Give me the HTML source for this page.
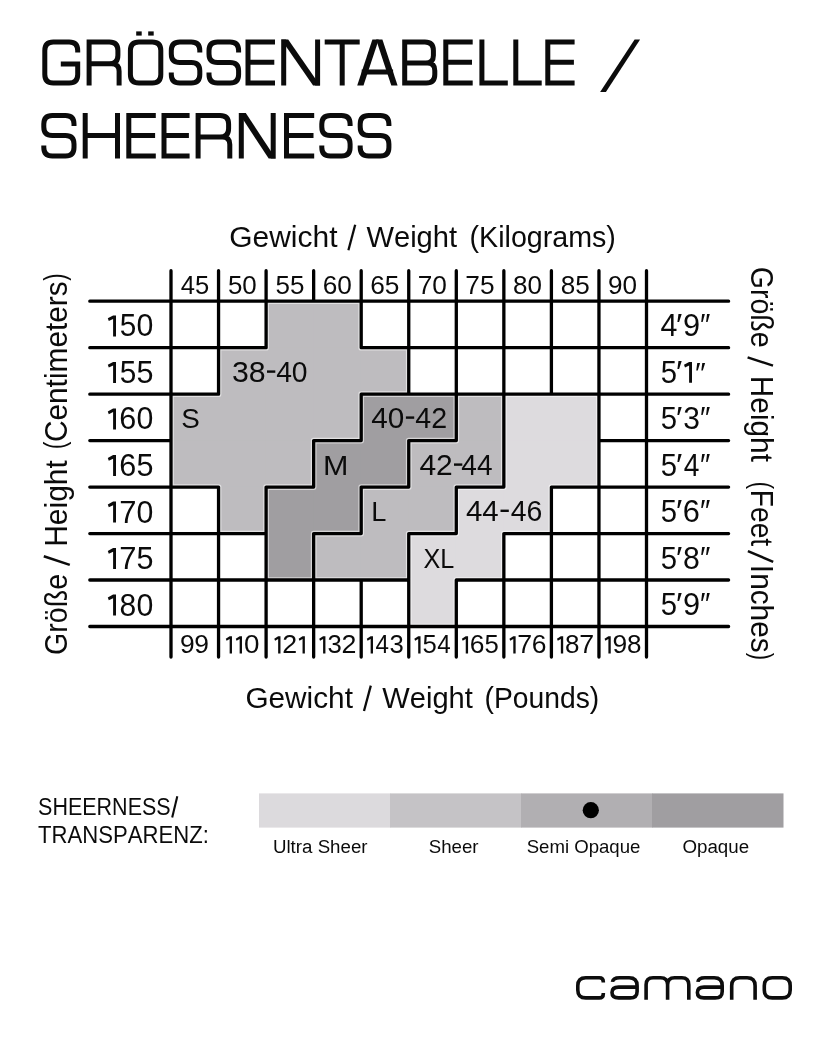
<!DOCTYPE html>
<html><head><meta charset="utf-8"><title>Grössentabelle / Sheerness</title>
<style>
html,body{margin:0;padding:0;background:#fff;}
body{width:832px;height:1040px;position:relative;overflow:hidden;font-family:"Liberation Sans",sans-serif;}
svg{position:absolute;left:0;top:0;display:block;will-change:transform;}
svg text{font-family:"Liberation Sans",sans-serif;fill:#0b0b0b;font-kerning:none;white-space:pre;}
</style></head><body>
<svg width="832" height="1040" viewBox="0 0 832 1040">
<rect x="265.60" y="300.70" width="48.55" height="47.47" fill="#bebcbf"/>
<rect x="313.15" y="300.70" width="48.55" height="47.47" fill="#bebcbf"/>
<rect x="218.05" y="347.17" width="48.55" height="47.47" fill="#bebcbf"/>
<rect x="265.60" y="347.17" width="48.55" height="47.47" fill="#bebcbf"/>
<rect x="313.15" y="347.17" width="48.55" height="47.47" fill="#bebcbf"/>
<rect x="360.70" y="347.17" width="48.55" height="47.47" fill="#bebcbf"/>
<rect x="170.50" y="393.64" width="48.55" height="47.47" fill="#bebcbf"/>
<rect x="218.05" y="393.64" width="48.55" height="47.47" fill="#bebcbf"/>
<rect x="265.60" y="393.64" width="48.55" height="47.47" fill="#bebcbf"/>
<rect x="313.15" y="393.64" width="48.55" height="47.47" fill="#bebcbf"/>
<rect x="360.70" y="393.64" width="48.55" height="47.47" fill="#a09ea1"/>
<rect x="408.25" y="393.64" width="48.55" height="47.47" fill="#a09ea1"/>
<rect x="455.80" y="393.64" width="48.55" height="47.47" fill="#bebcbf"/>
<rect x="503.35" y="393.64" width="48.55" height="47.47" fill="#dddbde"/>
<rect x="550.90" y="393.64" width="48.55" height="47.47" fill="#dddbde"/>
<rect x="170.50" y="440.11" width="48.55" height="47.47" fill="#bebcbf"/>
<rect x="218.05" y="440.11" width="48.55" height="47.47" fill="#bebcbf"/>
<rect x="265.60" y="440.11" width="48.55" height="47.47" fill="#bebcbf"/>
<rect x="313.15" y="440.11" width="48.55" height="47.47" fill="#a09ea1"/>
<rect x="360.70" y="440.11" width="48.55" height="47.47" fill="#a09ea1"/>
<rect x="408.25" y="440.11" width="48.55" height="47.47" fill="#bebcbf"/>
<rect x="455.80" y="440.11" width="48.55" height="47.47" fill="#bebcbf"/>
<rect x="503.35" y="440.11" width="48.55" height="47.47" fill="#dddbde"/>
<rect x="550.90" y="440.11" width="48.55" height="47.47" fill="#dddbde"/>
<rect x="218.05" y="486.58" width="48.55" height="47.47" fill="#bebcbf"/>
<rect x="265.60" y="486.58" width="48.55" height="47.47" fill="#a09ea1"/>
<rect x="313.15" y="486.58" width="48.55" height="47.47" fill="#a09ea1"/>
<rect x="360.70" y="486.58" width="48.55" height="47.47" fill="#bebcbf"/>
<rect x="408.25" y="486.58" width="48.55" height="47.47" fill="#bebcbf"/>
<rect x="455.80" y="486.58" width="48.55" height="47.47" fill="#dddbde"/>
<rect x="503.35" y="486.58" width="48.55" height="47.47" fill="#dddbde"/>
<rect x="265.60" y="533.05" width="48.55" height="47.47" fill="#a09ea1"/>
<rect x="313.15" y="533.05" width="48.55" height="47.47" fill="#bebcbf"/>
<rect x="360.70" y="533.05" width="48.55" height="47.47" fill="#bebcbf"/>
<rect x="408.25" y="533.05" width="48.55" height="47.47" fill="#dddbde"/>
<rect x="455.80" y="533.05" width="48.55" height="47.47" fill="#dddbde"/>
<rect x="408.25" y="579.52" width="48.55" height="47.47" fill="#dddbde"/>
<path d="M171.00 301.20L218.55 301.20 M218.55 301.20L266.10 301.20 M266.10 301.20L313.65 301.20 M313.65 301.20L361.20 301.20 M361.20 301.20L408.75 301.20 M408.75 301.20L456.30 301.20 M456.30 301.20L503.85 301.20 M503.85 301.20L551.40 301.20 M551.40 301.20L598.95 301.20 M598.95 301.20L646.50 301.20 M171.00 347.67L218.55 347.67 M218.55 347.67L266.10 347.67 M361.20 347.67L408.75 347.67 M408.75 347.67L456.30 347.67 M456.30 347.67L503.85 347.67 M503.85 347.67L551.40 347.67 M551.40 347.67L598.95 347.67 M598.95 347.67L646.50 347.67 M171.00 394.14L218.55 394.14 M361.20 394.14L408.75 394.14 M408.75 394.14L456.30 394.14 M456.30 394.14L503.85 394.14 M503.85 394.14L551.40 394.14 M551.40 394.14L598.95 394.14 M598.95 394.14L646.50 394.14 M313.65 440.61L361.20 440.61 M408.75 440.61L456.30 440.61 M598.95 440.61L646.50 440.61 M171.00 487.08L218.55 487.08 M266.10 487.08L313.65 487.08 M361.20 487.08L408.75 487.08 M456.30 487.08L503.85 487.08 M551.40 487.08L598.95 487.08 M598.95 487.08L646.50 487.08 M171.00 533.55L218.55 533.55 M218.55 533.55L266.10 533.55 M313.65 533.55L361.20 533.55 M408.75 533.55L456.30 533.55 M503.85 533.55L551.40 533.55 M551.40 533.55L598.95 533.55 M598.95 533.55L646.50 533.55 M171.00 580.02L218.55 580.02 M218.55 580.02L266.10 580.02 M266.10 580.02L313.65 580.02 M313.65 580.02L361.20 580.02 M361.20 580.02L408.75 580.02 M456.30 580.02L503.85 580.02 M503.85 580.02L551.40 580.02 M551.40 580.02L598.95 580.02 M598.95 580.02L646.50 580.02 M171.00 626.49L218.55 626.49 M218.55 626.49L266.10 626.49 M266.10 626.49L313.65 626.49 M313.65 626.49L361.20 626.49 M361.20 626.49L408.75 626.49 M408.75 626.49L456.30 626.49 M456.30 626.49L503.85 626.49 M503.85 626.49L551.40 626.49 M551.40 626.49L598.95 626.49 M598.95 626.49L646.50 626.49 M171.00 301.20L171.00 347.67 M171.00 347.67L171.00 394.14 M171.00 394.14L171.00 440.61 M171.00 440.61L171.00 487.08 M171.00 487.08L171.00 533.55 M171.00 533.55L171.00 580.02 M171.00 580.02L171.00 626.49 M218.55 301.20L218.55 347.67 M218.55 347.67L218.55 394.14 M218.55 487.08L218.55 533.55 M218.55 533.55L218.55 580.02 M218.55 580.02L218.55 626.49 M266.10 301.20L266.10 347.67 M266.10 487.08L266.10 533.55 M266.10 533.55L266.10 580.02 M266.10 580.02L266.10 626.49 M313.65 440.61L313.65 487.08 M313.65 533.55L313.65 580.02 M313.65 580.02L313.65 626.49 M361.20 301.20L361.20 347.67 M361.20 394.14L361.20 440.61 M361.20 487.08L361.20 533.55 M361.20 580.02L361.20 626.49 M408.75 301.20L408.75 347.67 M408.75 347.67L408.75 394.14 M408.75 440.61L408.75 487.08 M408.75 533.55L408.75 580.02 M408.75 580.02L408.75 626.49 M456.30 301.20L456.30 347.67 M456.30 347.67L456.30 394.14 M456.30 394.14L456.30 440.61 M456.30 487.08L456.30 533.55 M456.30 580.02L456.30 626.49 M503.85 301.20L503.85 347.67 M503.85 347.67L503.85 394.14 M503.85 394.14L503.85 440.61 M503.85 440.61L503.85 487.08 M503.85 533.55L503.85 580.02 M503.85 580.02L503.85 626.49 M551.40 301.20L551.40 347.67 M551.40 347.67L551.40 394.14 M551.40 487.08L551.40 533.55 M551.40 533.55L551.40 580.02 M551.40 580.02L551.40 626.49 M598.95 301.20L598.95 347.67 M598.95 347.67L598.95 394.14 M598.95 394.14L598.95 440.61 M598.95 440.61L598.95 487.08 M598.95 487.08L598.95 533.55 M598.95 533.55L598.95 580.02 M598.95 580.02L598.95 626.49 M646.50 301.20L646.50 347.67 M646.50 347.67L646.50 394.14 M646.50 394.14L646.50 440.61 M646.50 440.61L646.50 487.08 M646.50 487.08L646.50 533.55 M646.50 533.55L646.50 580.02 M646.50 580.02L646.50 626.49 M171.00 270.70L171.00 301.20 M171.00 626.49L171.00 657.00 M218.55 270.70L218.55 301.20 M218.55 626.49L218.55 657.00 M266.10 270.70L266.10 301.20 M266.10 626.49L266.10 657.00 M313.65 270.70L313.65 301.20 M313.65 626.49L313.65 657.00 M361.20 270.70L361.20 301.20 M361.20 626.49L361.20 657.00 M408.75 270.70L408.75 301.20 M408.75 626.49L408.75 657.00 M456.30 270.70L456.30 301.20 M456.30 626.49L456.30 657.00 M503.85 270.70L503.85 301.20 M503.85 626.49L503.85 657.00 M551.40 270.70L551.40 301.20 M551.40 626.49L551.40 657.00 M598.95 270.70L598.95 301.20 M598.95 626.49L598.95 657.00 M646.50 270.70L646.50 301.20 M646.50 626.49L646.50 657.00 M89.80 301.20L171.00 301.20 M646.50 301.20L728.60 301.20 M89.80 347.67L171.00 347.67 M646.50 347.67L728.60 347.67 M89.80 394.14L171.00 394.14 M646.50 394.14L728.60 394.14 M89.80 440.61L171.00 440.61 M646.50 440.61L728.60 440.61 M89.80 487.08L171.00 487.08 M646.50 487.08L728.60 487.08 M89.80 533.55L171.00 533.55 M646.50 533.55L728.60 533.55 M89.80 580.02L171.00 580.02 M646.50 580.02L728.60 580.02 M89.80 626.49L171.00 626.49 M646.50 626.49L728.60 626.49" stroke="#fff" stroke-opacity="0.55" stroke-width="5.699999999999999" stroke-linecap="round" fill="none"/>
<path d="M171.00 301.20L218.55 301.20 M218.55 301.20L266.10 301.20 M266.10 301.20L313.65 301.20 M313.65 301.20L361.20 301.20 M361.20 301.20L408.75 301.20 M408.75 301.20L456.30 301.20 M456.30 301.20L503.85 301.20 M503.85 301.20L551.40 301.20 M551.40 301.20L598.95 301.20 M598.95 301.20L646.50 301.20 M171.00 347.67L218.55 347.67 M218.55 347.67L266.10 347.67 M361.20 347.67L408.75 347.67 M408.75 347.67L456.30 347.67 M456.30 347.67L503.85 347.67 M503.85 347.67L551.40 347.67 M551.40 347.67L598.95 347.67 M598.95 347.67L646.50 347.67 M171.00 394.14L218.55 394.14 M361.20 394.14L408.75 394.14 M408.75 394.14L456.30 394.14 M456.30 394.14L503.85 394.14 M503.85 394.14L551.40 394.14 M551.40 394.14L598.95 394.14 M598.95 394.14L646.50 394.14 M313.65 440.61L361.20 440.61 M408.75 440.61L456.30 440.61 M598.95 440.61L646.50 440.61 M171.00 487.08L218.55 487.08 M266.10 487.08L313.65 487.08 M361.20 487.08L408.75 487.08 M456.30 487.08L503.85 487.08 M551.40 487.08L598.95 487.08 M598.95 487.08L646.50 487.08 M171.00 533.55L218.55 533.55 M218.55 533.55L266.10 533.55 M313.65 533.55L361.20 533.55 M408.75 533.55L456.30 533.55 M503.85 533.55L551.40 533.55 M551.40 533.55L598.95 533.55 M598.95 533.55L646.50 533.55 M171.00 580.02L218.55 580.02 M218.55 580.02L266.10 580.02 M266.10 580.02L313.65 580.02 M313.65 580.02L361.20 580.02 M361.20 580.02L408.75 580.02 M456.30 580.02L503.85 580.02 M503.85 580.02L551.40 580.02 M551.40 580.02L598.95 580.02 M598.95 580.02L646.50 580.02 M171.00 626.49L218.55 626.49 M218.55 626.49L266.10 626.49 M266.10 626.49L313.65 626.49 M313.65 626.49L361.20 626.49 M361.20 626.49L408.75 626.49 M408.75 626.49L456.30 626.49 M456.30 626.49L503.85 626.49 M503.85 626.49L551.40 626.49 M551.40 626.49L598.95 626.49 M598.95 626.49L646.50 626.49 M171.00 301.20L171.00 347.67 M171.00 347.67L171.00 394.14 M171.00 394.14L171.00 440.61 M171.00 440.61L171.00 487.08 M171.00 487.08L171.00 533.55 M171.00 533.55L171.00 580.02 M171.00 580.02L171.00 626.49 M218.55 301.20L218.55 347.67 M218.55 347.67L218.55 394.14 M218.55 487.08L218.55 533.55 M218.55 533.55L218.55 580.02 M218.55 580.02L218.55 626.49 M266.10 301.20L266.10 347.67 M266.10 487.08L266.10 533.55 M266.10 533.55L266.10 580.02 M266.10 580.02L266.10 626.49 M313.65 440.61L313.65 487.08 M313.65 533.55L313.65 580.02 M313.65 580.02L313.65 626.49 M361.20 301.20L361.20 347.67 M361.20 394.14L361.20 440.61 M361.20 487.08L361.20 533.55 M361.20 580.02L361.20 626.49 M408.75 301.20L408.75 347.67 M408.75 347.67L408.75 394.14 M408.75 440.61L408.75 487.08 M408.75 533.55L408.75 580.02 M408.75 580.02L408.75 626.49 M456.30 301.20L456.30 347.67 M456.30 347.67L456.30 394.14 M456.30 394.14L456.30 440.61 M456.30 487.08L456.30 533.55 M456.30 580.02L456.30 626.49 M503.85 301.20L503.85 347.67 M503.85 347.67L503.85 394.14 M503.85 394.14L503.85 440.61 M503.85 440.61L503.85 487.08 M503.85 533.55L503.85 580.02 M503.85 580.02L503.85 626.49 M551.40 301.20L551.40 347.67 M551.40 347.67L551.40 394.14 M551.40 487.08L551.40 533.55 M551.40 533.55L551.40 580.02 M551.40 580.02L551.40 626.49 M598.95 301.20L598.95 347.67 M598.95 347.67L598.95 394.14 M598.95 394.14L598.95 440.61 M598.95 440.61L598.95 487.08 M598.95 487.08L598.95 533.55 M598.95 533.55L598.95 580.02 M598.95 580.02L598.95 626.49 M646.50 301.20L646.50 347.67 M646.50 347.67L646.50 394.14 M646.50 394.14L646.50 440.61 M646.50 440.61L646.50 487.08 M646.50 487.08L646.50 533.55 M646.50 533.55L646.50 580.02 M646.50 580.02L646.50 626.49 M171.00 270.70L171.00 301.20 M171.00 626.49L171.00 657.00 M218.55 270.70L218.55 301.20 M218.55 626.49L218.55 657.00 M266.10 270.70L266.10 301.20 M266.10 626.49L266.10 657.00 M313.65 270.70L313.65 301.20 M313.65 626.49L313.65 657.00 M361.20 270.70L361.20 301.20 M361.20 626.49L361.20 657.00 M408.75 270.70L408.75 301.20 M408.75 626.49L408.75 657.00 M456.30 270.70L456.30 301.20 M456.30 626.49L456.30 657.00 M503.85 270.70L503.85 301.20 M503.85 626.49L503.85 657.00 M551.40 270.70L551.40 301.20 M551.40 626.49L551.40 657.00 M598.95 270.70L598.95 301.20 M598.95 626.49L598.95 657.00 M646.50 270.70L646.50 301.20 M646.50 626.49L646.50 657.00 M89.80 301.20L171.00 301.20 M646.50 301.20L728.60 301.20 M89.80 347.67L171.00 347.67 M646.50 347.67L728.60 347.67 M89.80 394.14L171.00 394.14 M646.50 394.14L728.60 394.14 M89.80 440.61L171.00 440.61 M646.50 440.61L728.60 440.61 M89.80 487.08L171.00 487.08 M646.50 487.08L728.60 487.08 M89.80 533.55L171.00 533.55 M646.50 533.55L728.60 533.55 M89.80 580.02L171.00 580.02 M646.50 580.02L728.60 580.02 M89.80 626.49L171.00 626.49 M646.50 626.49L728.60 626.49" stroke="#000" stroke-width="3.3" stroke-linecap="round" fill="none"/>
<g id="title">
<rect x="136.2" y="31.4" width="5.5" height="4.2" fill="#0b0b0b"/><rect x="148.2" y="31.4" width="5.5" height="4.2" fill="#0b0b0b"/>
<polygon points="281.20,39.50 288.20,39.50 320.10,85.60 313.10,85.60" fill="#0b0b0b"/>
<polygon points="372.40,39.50 378.70,39.50 363.50,85.60 357.20,85.60" fill="#0b0b0b"/>
<polygon points="382.40,39.50 376.10,39.50 391.30,85.60 397.60,85.60" fill="#0b0b0b"/>
<polygon points="238.80,113.00 245.80,113.00 275.70,158.60 268.70,158.60" fill="#0b0b0b"/>
<path d="M77.7 52.5V50.5Q77.7 42.0 69.2 42.0H53.3Q44.8 42.0 44.8 50.5V74.6Q44.8 83.1 53.3 83.1H69.2Q77.7 83.1 77.7 74.6V63.9H60.8 M89.1 85.6V42.0H109.4Q117.9 42.0 117.9 50.5V55.2Q117.9 63.8 109.4 63.8H89.1M109.4 63.8H111.6Q119.1 63.8 119.1 71.2V85.6 M138.9 42.0H152.3Q160.8 42.0 160.8 50.5V74.6Q160.8 83.1 152.3 83.1H138.9Q130.4 83.1 130.4 74.6V50.5Q130.4 42.0 138.9 42.0Z M199.8 52.5V50.5Q199.8 42.0 191.3 42.0H179.8Q171.3 42.0 171.3 50.5V53.9Q171.3 62.4 179.8 62.4H191.3Q199.8 62.4 199.8 70.8V74.6Q199.8 83.1 191.3 83.1H179.8Q171.3 83.1 171.3 74.6V72.6 M238.6 52.5V50.5Q238.6 42.0 230.1 42.0H217.5Q209.0 42.0 209.0 50.5V53.9Q209.0 62.4 217.5 62.4H230.1Q238.6 62.4 238.6 70.8V74.6Q238.6 83.1 230.1 83.1H217.5Q209.0 83.1 209.0 74.6V72.6 M275.0 42.0H248.0V83.1H275.0M248.0 62.3H274.3 M283.7 39.5V85.6M317.6 39.5V85.6 M324.7 42.0H359.7M342.2 42.0V85.6 M361.7 71.9H393.1 M404.7 63.1V42.0H424.9Q433.4 42.0 433.4 50.5V55.6Q433.4 63.1 425.9 63.1H404.7V83.1H426.3Q434.8 83.1 434.8 74.6V70.7Q434.8 63.1 427.3 63.1 M472.7 42.0H445.8V83.1H472.7M445.8 62.3H472.0 M481.9 39.5V83.1H507.8 M515.8 39.5V83.1H541.7 M574.6 42.0H547.8V83.1H574.6M547.8 62.3H573.9 M74.0 126.0V124.0Q74.0 115.5 65.5 115.5H52.3Q43.8 115.5 43.8 124.0V127.1Q43.8 135.6 52.3 135.6H65.5Q74.0 135.6 74.0 144.1V147.6Q74.0 156.1 65.5 156.1H52.3Q43.8 156.1 43.8 147.6V145.6 M85.2 113.0V158.6M117.5 113.0V158.6M85.2 135.6H117.5 M155.8 115.5H128.8V156.1H155.8M128.8 135.6H155.1 M189.6 115.5H164.0V156.1H189.6M164.0 135.6H188.9 M198.1 158.6V115.5H220.1Q228.6 115.5 228.6 124.0V128.5Q228.6 137.0 220.1 137.0H198.1M220.1 137.0H222.3Q229.8 137.0 229.8 144.5V158.6 M241.3 113.0V158.6M273.2 113.0V158.6 M314.2 115.5H286.5V156.1H314.2M286.5 135.6H313.5 M350.1 126.0V124.0Q350.1 115.5 341.6 115.5H330.3Q321.8 115.5 321.8 124.0V127.1Q321.8 135.6 330.3 135.6H341.6Q350.1 135.6 350.1 144.1V147.6Q350.1 156.1 341.6 156.1H330.3Q321.8 156.1 321.8 147.6V145.6 M388.9 126.0V124.0Q388.9 115.5 380.4 115.5H368.7Q360.2 115.5 360.2 124.0V127.1Q360.2 135.6 368.7 135.6H380.4Q388.9 135.6 388.9 144.1V147.6Q388.9 156.1 380.4 156.1H368.7Q360.2 156.1 360.2 147.6V145.6" fill="none" stroke="#0b0b0b" stroke-width="5.0" stroke-linejoin="miter" stroke-linecap="butt"/>
<polygon points="634.6,39.5 640.1,39.5 605.9,91.9 600.1,91.9" fill="#0b0b0b"/>
</g>
<text transform="translate(229.29 246.70) scale(1.0331 1)" font-size="29" >Gewicht</text>
<line x1="348.4" y1="250.2" x2="355.2" y2="224.8" stroke="#0b0b0b" stroke-width="2.3"/>
<text transform="translate(366.47 246.70) scale(1.0043 1)" font-size="29" >Weight</text>
<text transform="translate(469.52 246.70) scale(0.9879 1)" font-size="29" >(Kilograms)</text>
<text transform="translate(245.40 707.50) scale(1.0273 1)" font-size="29" >Gewicht</text>
<line x1="364.0" y1="711.0" x2="370.8" y2="685.6" stroke="#0b0b0b" stroke-width="2.3"/>
<text transform="translate(382.37 707.50) scale(1.0031 1)" font-size="29" >Weight</text>
<text transform="translate(484.55 707.50) scale(0.9757 1)" font-size="29" >(Pounds)</text>
<text transform="translate(180.79 294.00) scale(1.0235 1)" font-size="25" >45</text>
<text transform="translate(179.94 653.40) scale(1.0565 1)" font-size="25" >9</text>
<text transform="translate(194.34 653.40) scale(1.0565 1)" font-size="25" >9</text>
<text transform="translate(227.89 294.00) scale(1.0376 1)" font-size="25" >50</text>
<polygon points="229.65,636.20 231.97,636.20 231.97,653.40 229.65,653.40 229.65,639.11 226.59,640.84 225.78,638.64" fill="#0b0b0b"/>
<polygon points="239.65,636.20 241.97,636.20 241.97,653.40 239.65,653.40 239.65,639.11 236.59,640.84 235.78,638.64" fill="#0b0b0b"/>
<text transform="translate(243.89 653.40) scale(1.1129 1)" font-size="25" >0</text>
<text transform="translate(275.43 294.00) scale(1.0405 1)" font-size="25" >55</text>
<polygon points="278.15,636.20 280.47,636.20 280.47,653.40 278.15,653.40 278.15,639.11 275.09,640.84 274.27,638.64" fill="#0b0b0b"/>
<text transform="translate(282.13 653.40) scale(1.0712 1)" font-size="25" >2</text>
<polygon points="302.55,636.20 304.87,636.20 304.87,653.40 302.55,653.40 302.55,639.11 299.49,640.84 298.67,638.64" fill="#0b0b0b"/>
<text transform="translate(322.69 294.00) scale(1.0485 1)" font-size="25" >60</text>
<polygon points="323.10,636.20 325.42,636.20 325.42,653.40 323.10,653.40 323.10,639.11 320.04,640.84 319.22,638.64" fill="#0b0b0b"/>
<text transform="translate(327.44 653.40) scale(1.0293 1)" font-size="25" >3</text>
<text transform="translate(341.48 653.40) scale(1.0712 1)" font-size="25" >2</text>
<text transform="translate(370.24 294.00) scale(1.0515 1)" font-size="25" >65</text>
<polygon points="370.65,636.20 372.98,636.20 372.98,653.40 370.65,653.40 370.65,639.11 367.59,640.84 366.78,638.64" fill="#0b0b0b"/>
<text transform="translate(375.42 653.40) scale(0.9684 1)" font-size="25" >4</text>
<text transform="translate(389.39 653.40) scale(1.0293 1)" font-size="25" >3</text>
<text transform="translate(417.78 294.00) scale(1.0490 1)" font-size="25" >70</text>
<polygon points="418.20,636.20 420.52,636.20 420.52,653.40 418.20,653.40 418.20,639.11 415.14,640.84 414.32,638.64" fill="#0b0b0b"/>
<text transform="translate(422.49 653.40) scale(1.0293 1)" font-size="25" >5</text>
<text transform="translate(437.37 653.40) scale(0.9684 1)" font-size="25" >4</text>
<text transform="translate(465.33 294.00) scale(1.0520 1)" font-size="25" >75</text>
<polygon points="465.75,636.20 468.07,636.20 468.07,653.40 465.75,653.40 465.75,639.11 462.69,640.84 461.87,638.64" fill="#0b0b0b"/>
<text transform="translate(469.73 653.40) scale(1.0576 1)" font-size="25" >6</text>
<text transform="translate(484.44 653.40) scale(1.0293 1)" font-size="25" >5</text>
<text transform="translate(513.09 294.00) scale(1.0410 1)" font-size="25" >80</text>
<polygon points="513.30,636.20 515.63,636.20 515.63,653.40 513.30,653.40 513.30,639.11 510.24,640.84 509.43,638.64" fill="#0b0b0b"/>
<text transform="translate(517.25 653.40) scale(1.0735 1)" font-size="25" >7</text>
<text transform="translate(531.68 653.40) scale(1.0576 1)" font-size="25" >6</text>
<text transform="translate(560.64 294.00) scale(1.0440 1)" font-size="25" >85</text>
<polygon points="560.85,636.20 563.18,636.20 563.18,653.40 560.85,653.40 560.85,639.11 557.79,640.84 556.98,638.64" fill="#0b0b0b"/>
<text transform="translate(565.05 653.40) scale(1.0400 1)" font-size="25" >8</text>
<text transform="translate(579.20 653.40) scale(1.0735 1)" font-size="25" >7</text>
<text transform="translate(608.10 294.00) scale(1.0445 1)" font-size="25" >90</text>
<polygon points="608.40,636.20 610.73,636.20 610.73,653.40 608.40,653.40 608.40,639.11 605.34,640.84 604.53,638.64" fill="#0b0b0b"/>
<text transform="translate(612.49 653.40) scale(1.0565 1)" font-size="25" >9</text>
<text transform="translate(627.00 653.40) scale(1.0400 1)" font-size="25" >8</text>
<polygon points="113.10,315.42 116.00,315.42 116.00,336.40 113.10,336.40 113.10,319.04 108.81,321.08 107.80,318.33" fill="#0b0b0b"/>
<text transform="translate(119.71 336.40) scale(0.9751 1)" font-size="30.5" >5</text>
<text transform="translate(136.42 336.40) scale(0.9945 1)" font-size="30.5" >0</text>
<text transform="translate(660.40 336.10) scale(0.9922 1)" font-size="30.6" >4</text>
<text transform="translate(675.99 336.10) scale(1.1069 1)" font-size="30.6" >′</text>
<text transform="translate(682.96 336.10) scale(1.0046 1)" font-size="30.6" >9</text>
<text transform="translate(699.99 336.10) scale(0.9561 1)" font-size="30.6" >″</text>
<polygon points="113.10,361.95 116.00,361.95 116.00,382.93 113.10,382.93 113.10,365.57 108.81,367.61 107.80,364.86" fill="#0b0b0b"/>
<text transform="translate(119.71 382.93) scale(0.9751 1)" font-size="30.5" >5</text>
<text transform="translate(136.38 382.93) scale(1.0027 1)" font-size="30.5" >5</text>
<text transform="translate(660.73 382.63) scale(0.9581 1)" font-size="30.6" >5</text>
<text transform="translate(675.99 382.63) scale(1.1069 1)" font-size="30.6" >′</text>
<polygon points="689.10,361.99 692.00,361.99 692.00,382.63 689.10,382.63 689.10,365.62 685.01,367.56 684.00,364.81" fill="#0b0b0b"/>
<text transform="translate(695.04 382.63) scale(1.0093 1)" font-size="30" >″</text>
<polygon points="113.10,408.48 116.00,408.48 116.00,429.46 113.10,429.46 113.10,412.10 108.81,414.14 107.80,411.39" fill="#0b0b0b"/>
<text transform="translate(119.35 429.46) scale(1.0019 1)" font-size="30.5" >6</text>
<text transform="translate(136.42 429.46) scale(0.9945 1)" font-size="30.5" >0</text>
<text transform="translate(660.73 429.16) scale(0.9581 1)" font-size="30.6" >5</text>
<text transform="translate(675.99 429.16) scale(1.1069 1)" font-size="30.6" >′</text>
<text transform="translate(683.26 429.16) scale(0.9788 1)" font-size="30.6" >3</text>
<text transform="translate(699.99 429.16) scale(0.9561 1)" font-size="30.6" >″</text>
<polygon points="113.10,455.01 116.00,455.01 116.00,475.99 113.10,475.99 113.10,458.63 108.81,460.67 107.80,457.92" fill="#0b0b0b"/>
<text transform="translate(119.35 475.99) scale(1.0019 1)" font-size="30.5" >6</text>
<text transform="translate(136.38 475.99) scale(1.0027 1)" font-size="30.5" >5</text>
<text transform="translate(660.73 475.69) scale(0.9581 1)" font-size="30.6" >5</text>
<text transform="translate(675.99 475.69) scale(1.1069 1)" font-size="30.6" >′</text>
<text transform="translate(683.75 475.69) scale(0.9209 1)" font-size="30.6" >4</text>
<text transform="translate(699.99 475.69) scale(0.9561 1)" font-size="30.6" >″</text>
<polygon points="113.10,501.54 116.00,501.54 116.00,522.52 113.10,522.52 113.10,505.16 108.81,507.20 107.80,504.45" fill="#0b0b0b"/>
<text transform="translate(119.31 522.52) scale(1.0169 1)" font-size="30.5" >7</text>
<text transform="translate(136.42 522.52) scale(0.9945 1)" font-size="30.5" >0</text>
<text transform="translate(660.73 522.22) scale(0.9581 1)" font-size="30.6" >5</text>
<text transform="translate(675.99 522.22) scale(1.1069 1)" font-size="30.6" >′</text>
<text transform="translate(682.84 522.22) scale(1.0057 1)" font-size="30.6" >6</text>
<text transform="translate(699.99 522.22) scale(0.9561 1)" font-size="30.6" >″</text>
<polygon points="113.10,548.07 116.00,548.07 116.00,569.05 113.10,569.05 113.10,551.69 108.81,553.73 107.80,550.98" fill="#0b0b0b"/>
<text transform="translate(119.31 569.05) scale(1.0169 1)" font-size="30.5" >7</text>
<text transform="translate(136.38 569.05) scale(1.0027 1)" font-size="30.5" >5</text>
<text transform="translate(660.73 568.75) scale(0.9581 1)" font-size="30.6" >5</text>
<text transform="translate(675.99 568.75) scale(1.1069 1)" font-size="30.6" >′</text>
<text transform="translate(683.08 568.75) scale(0.9889 1)" font-size="30.6" >8</text>
<text transform="translate(699.99 568.75) scale(0.9561 1)" font-size="30.6" >″</text>
<polygon points="113.10,594.60 116.00,594.60 116.00,615.58 113.10,615.58 113.10,598.22 108.81,600.26 107.80,597.51" fill="#0b0b0b"/>
<text transform="translate(119.59 615.58) scale(0.9852 1)" font-size="30.5" >8</text>
<text transform="translate(136.42 615.58) scale(0.9945 1)" font-size="30.5" >0</text>
<text transform="translate(660.73 615.28) scale(0.9581 1)" font-size="30.6" >5</text>
<text transform="translate(675.99 615.28) scale(1.1069 1)" font-size="30.6" >′</text>
<text transform="translate(682.96 615.28) scale(1.0046 1)" font-size="30.6" >9</text>
<text transform="translate(699.99 615.28) scale(0.9561 1)" font-size="30.6" >″</text>
<text transform="translate(231.95 382.00) scale(1.0438 1)" font-size="29" >38</text>
<text transform="translate(276.15 382.00) scale(0.9751 1)" font-size="29" >40</text>
<line x1="267.0" y1="371.6" x2="275.3" y2="371.6" stroke="#0b0b0b" stroke-width="2.4"/>
<text transform="translate(371.32 428.00) scale(1.0243 1)" font-size="29" >40</text>
<text transform="translate(415.24 428.00) scale(0.9856 1)" font-size="29" >42</text>
<line x1="405.9" y1="417.6" x2="414.2" y2="417.6" stroke="#0b0b0b" stroke-width="2.4"/>
<text transform="translate(419.41 475.00) scale(1.0354 1)" font-size="29" >42</text>
<text transform="translate(461.36 475.00) scale(0.9661 1)" font-size="29" >44</text>
<line x1="454.0" y1="464.6" x2="462.3" y2="464.6" stroke="#0b0b0b" stroke-width="2.4"/>
<text transform="translate(465.92 521.20) scale(1.0149 1)" font-size="29" >44</text>
<text transform="translate(510.75 521.20) scale(0.9797 1)" font-size="29" >46</text>
<line x1="500.5" y1="510.8" x2="508.8" y2="510.8" stroke="#0b0b0b" stroke-width="2.4"/>
<text transform="translate(181.24 427.70) scale(1.0294 1)" font-size="27" >S</text>
<text transform="translate(323.10 474.70) scale(1.1295 1)" font-size="27" >M</text>
<text transform="translate(371.37 521.30) scale(1.0080 1)" font-size="27" >L</text>
<text transform="translate(423.43 567.80) scale(0.9327 1)" font-size="27" >XL</text>
<g transform="translate(66.9 0) rotate(-90)">
<text transform="translate(-655.04 0.00) scale(0.9292 1)" font-size="30.8" >Größe</text>
<text transform="translate(-546.86 0.00) scale(0.9747 1)" font-size="30.8" >Height</text>
<text transform="translate(-449.30 -1.60) scale(0.7803 1)" font-size="29" >(</text>
<text transform="translate(-442.12 0.00) scale(0.9691 1)" font-size="30.8" >Centimeters</text>
<text transform="translate(-280.73 -1.60) scale(0.7543 1)" font-size="29" >)</text>
</g>
<line x1="69.8" y1="564.9" x2="43.8" y2="556.2" stroke="#0b0b0b" stroke-width="2.5"/>
<g transform="translate(750.8 0) rotate(90)">
<text transform="translate(266.66 0.00) scale(0.9292 1)" font-size="30.8" >Größe</text>
<text transform="translate(375.75 0.00) scale(0.9689 1)" font-size="30.8" >Height</text>
<text transform="translate(481.40 -1.60) scale(0.7803 1)" font-size="29" >(</text>
<text transform="translate(489.79 0.00) scale(0.9155 1)" font-size="30.8" >Feet</text>
<text transform="translate(564.85 0.00) scale(0.9678 1)" font-size="30.8" >Inches</text>
<text transform="translate(652.67 -1.60) scale(0.7543 1)" font-size="29" >)</text>
</g>
<line x1="747.6" y1="357.4" x2="773.0" y2="365.6" stroke="#0b0b0b" stroke-width="2.5"/>
<line x1="747.9" y1="551.2" x2="773.2" y2="561.8" stroke="#0b0b0b" stroke-width="2.5"/>
<rect x="259" y="793.4" width="131.5" height="34.2" fill="#dcdadd"/>
<rect x="390" y="793.4" width="131.5" height="34.2" fill="#c5c3c6"/>
<rect x="521" y="793.4" width="131.5" height="34.2" fill="#b1afb2"/>
<rect x="652" y="793.4" width="131.5" height="34.2" fill="#a09ea1"/>
<circle cx="590.8" cy="810.2" r="8.1" fill="#000"/>
<text transform="translate(38.12 814.50) scale(0.8772 1)" font-size="24.5" >SHEERNESS</text>
<line x1="172.2" y1="817.6" x2="177.3" y2="796.2" stroke="#0b0b0b" stroke-width="2.1"/>
<text transform="translate(38.10 843.30) scale(0.9028 1)" font-size="24.5" >TRANSPARENZ:</text>
<text transform="translate(272.96 853.10) scale(0.9850 1)" font-size="19" >Ultra Sheer</text>
<text transform="translate(428.75 853.10) scale(0.9834 1)" font-size="19" >Sheer</text>
<text transform="translate(526.66 853.10) scale(0.9793 1)" font-size="19" >Semi Opaque</text>
<text transform="translate(682.41 853.10) scale(0.9868 1)" font-size="19" >Opaque</text>
<g id="logo" fill="none" stroke="#0d0d0d" stroke-width="3.6" stroke-linejoin="round" stroke-linecap="butt">
<path d="M603.3 982.6 V981.7 Q603.3 977.7 599.3 977.7 H585.8 Q577.8 977.7 577.8 985.7 V989.9 Q577.8 997.9 585.8 997.9 H599.3 Q603.3 997.9 603.3 993.9 V993"/>
<path d="M612.5 981.9 Q613.0 977.7 619.5 977.7 H629.1 Q637.1 977.7 637.1 985.7 V991.4 Q637.1 997.9 630.1 997.9 H618.6 Q612.0 997.9 612.0 992.5 Q612.0 987.1 618.6 987.1 H637.1"/>
<path d="M646.1 999.8 V984.7 Q646.1 977.7 653.1 977.7 H660.6 Q667.6 977.7 667.6 984.7 V999.8 M667.6 984.7 Q667.6 977.7 674.6 977.7 H681.8 Q688.8 977.7 688.8 984.7 V999.8"/>
<path d="M697.9 981.9 Q698.4 977.7 704.9 977.7 H714.2 Q722.2 977.7 722.2 985.7 V991.4 Q722.2 997.9 715.2 997.9 H704.0 Q697.4 997.9 697.4 992.5 Q697.4 987.1 704.0 987.1 H722.2"/>
<path d="M731.7 999.8 V985.7 Q731.7 977.7 739.7 977.7 H747.1 Q755.1 977.7 755.1 985.7 V999.8"/>
<path d="M772.3 977.7 H782.2 Q790.2 977.7 790.2 985.7 V989.9 Q790.2 997.9 782.2 997.9 H772.3 Q764.3 997.9 764.3 989.9 V985.7 Q764.3 977.7 772.3 977.7 Z"/>
</g>
</svg>
</body></html>
